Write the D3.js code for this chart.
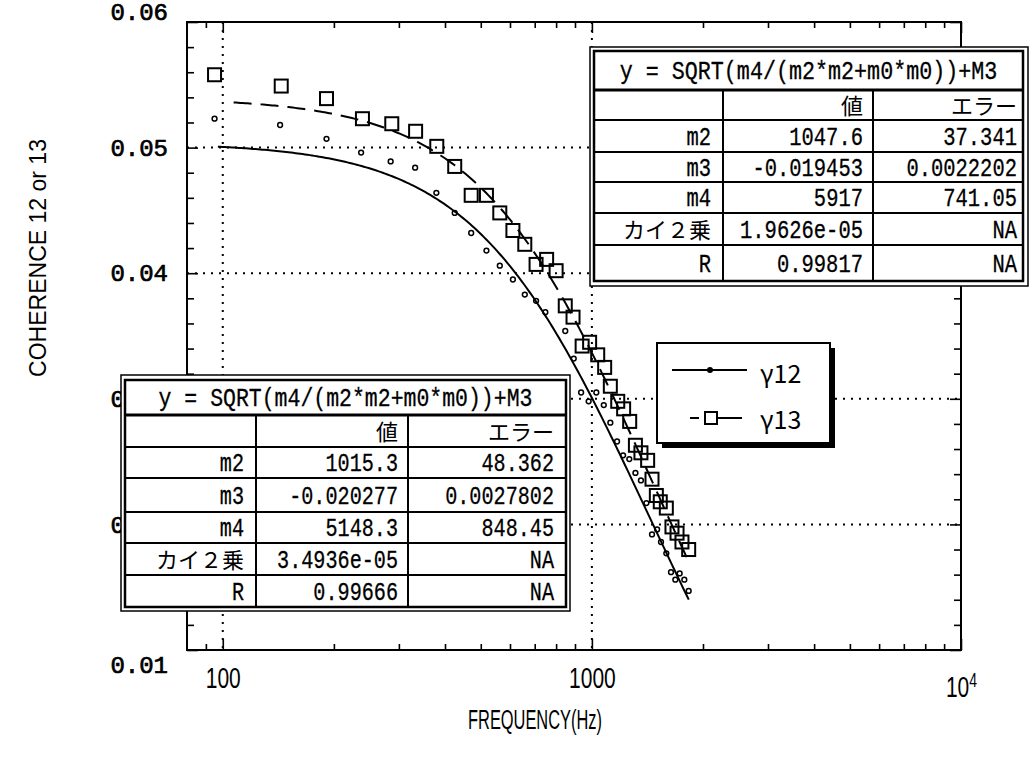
<!DOCTYPE html>
<html><head><meta charset="utf-8">
<script src="https://cdn.jsdelivr.net/npm/d3@7"></script>
<style>body{margin:0;background:#fff} svg{display:block}</style>
</head><body>
<svg id="c" width="1033" height="762"></svg>
<script>
// ---------------- data ----------------
const freq12 = [95, 143, 191, 237, 285, 332, 379, 425, 471, 518, 563, 611, 658, 706, 748, 847, 893, 935, 980, 1028, 1077, 1122, 1170, 1215, 1263, 1312, 1358, 1405, 1455, 1502, 1539, 1591, 1638, 1683, 1729, 1780, 1829];
const coh12  = [0.0523, 0.0518, 0.0507, 0.0496, 0.0489, 0.0484, 0.0464, 0.0448, 0.0432, 0.0418, 0.0406, 0.0395, 0.0383, 0.0378, 0.0369, 0.0354, 0.0332, 0.0305, 0.0298, 0.0305, 0.0295, 0.0281, 0.0266, 0.0255, 0.0252, 0.0241, 0.0235, 0.0217, 0.0192, 0.0196, 0.0186, 0.0177, 0.0162, 0.0156, 0.0161, 0.0156, 0.0147];
const freq13 = [95, 144, 191, 239, 287, 333, 380, 425, 471, 518, 563, 611, 658, 706, 754, 800, 847, 889, 941, 986, 1037, 1083, 1122, 1175, 1219, 1266, 1312, 1358, 1416, 1455, 1495, 1532, 1591, 1648, 1701, 1754, 1829];
const coh13  = [0.0558, 0.0549, 0.0539, 0.0523, 0.0519, 0.0513, 0.0501, 0.0485, 0.0462, 0.0462, 0.0448, 0.0434, 0.0423, 0.0407, 0.0411, 0.0402, 0.0374, 0.0365, 0.0342, 0.0345, 0.0335, 0.0325, 0.0310, 0.0298, 0.0292, 0.0282, 0.0263, 0.0257, 0.0251, 0.0236, 0.0223, 0.0218, 0.0213, 0.0198, 0.0193, 0.0186, 0.0180];

// fit parameters shown in the tables: [m2, m3, m4]
const fit12 = [1015.3, -0.020277, 5148.3];
const fit13 = [1047.6, -0.019453, 5917];
const fit12Range = [97, 1830];
const fit13Range = [107, 1830];

const xTickValues = [100, 1000, 10000];
const xTickLabels = ["100", "1000", "10"];
const yTickValues = [0.01, 0.02, 0.03, 0.04, 0.05, 0.06];
const yTickLabels = ["0.01", "0.02", "0.03", "0.04", "0.05", "0.06"];
const xGridValues = [100, 1000];
const yGridValues = [0.02, 0.03, 0.04, 0.05];

const tableTitle = "y = SQRT(m4/(m2*m2+m0*m0))+M3";
const tableHeader = ["", "値", "エラー"];
const tableRowNames = ["m2", "m3", "m4", "カイ２乗", "R"];
const table13Values = ["1047.6", "-0.019453", "5917", "1.9626e-05", "0.99817"];
const table13Errors = ["37.341", "0.0022202", "741.05", "NA", "NA"];
const table12Values = ["1015.3", "-0.020277", "5148.3", "3.4936e-05", "0.99666"];
const table12Errors = ["48.362", "0.0027802", "848.45", "NA", "NA"];

const legendLabels = ["γ12", "γ13"];
const xTitle = "FREQUENCY(Hz)";
const yTitle = "COHERENCE 12 or 13";

// ---------------- layout ----------------
const svg = d3.select("#c");
const L = 187, R = 961, T = 22, B = 650;
const x = d3.scaleLog().domain([80, 10000]).range([L, R]);
const y = d3.scaleLinear().domain([0.01, 0.06]).range([B, T]);

svg.append("rect").attr("width", 1033).attr("height", 762).attr("fill", "#fff");

// horizontally squeeze a text to a target width (condensed look)
function squeeze(t, w, extra) {
  const n = t.node().getComputedTextLength();
  const s = w / n;
  const xx = +t.attr("x"), yy = +t.attr("y");
  t.attr("x", 0).attr("y", 0).attr("transform", `translate(${xx},${yy}) ${extra || ""} scale(${s},1)`);
  return t;
}

// grid (dotted)
const grid = svg.append("g").attr("stroke", "#000").attr("stroke-width", 2).attr("stroke-dasharray", "2,6");
grid.selectAll("line.v").data(xGridValues).join("line")
  .attr("x1", d => x(d)).attr("x2", d => x(d)).attr("y1", T).attr("y2", B);
grid.selectAll("line.h").data(yGridValues).join("line")
  .attr("x1", L).attr("x2", R).attr("y1", d => y(d)).attr("y2", d => y(d));

// minor tick positions
const xMinor = [];
[10, 100, 1000].forEach(dec => { for (let k = 2; k <= 9; k++) { const v = k * dec; if (v > 80 && v < 10000) xMinor.push(v); } });
const yMinor = [];
for (let i = 1; i < 25; i++) { const v = +(0.01 + i * 0.002).toFixed(3); if (Math.round(v * 1000) % 10 !== 0) yMinor.push(v); }

function styleAxis(g) { g.select(".domain").remove(); g.selectAll(".tick line").attr("stroke", "#000").attr("stroke-width", 1.6); }

// bottom
svg.append("g").attr("transform", `translate(0,${B})`)
  .call(d3.axisBottom(x).tickValues(xMinor).tickSize(-6).tickFormat("")).call(styleAxis);
const xAx = svg.append("g").attr("transform", `translate(0,${B})`)
  .call(d3.axisBottom(x).tickValues(xTickValues).tickSize(-11).tickPadding(17)
    .tickFormat((d, i) => xTickLabels[i])).call(styleAxis);
xAx.selectAll(".tick text").attr("font-family", "Liberation Sans, Arial, sans-serif")
  .attr("font-size", 30).attr("fill", "#000").attr("transform", "scale(0.7,1)")
  .each(function (d) {
    if (d === 10000) {
      d3.select(this).attr("dy", "1.0em").append("tspan").attr("dy", "-0.5em").attr("font-size", 20).text("4");
    }
  });
// top
svg.append("g").attr("transform", `translate(0,${T})`)
  .call(d3.axisTop(x).tickValues(xMinor).tickSize(-6).tickFormat("")).call(styleAxis);
svg.append("g").attr("transform", `translate(0,${T})`)
  .call(d3.axisTop(x).tickValues(xTickValues).tickSize(-11).tickFormat("")).call(styleAxis);
// left
svg.append("g").attr("transform", `translate(${L},0)`)
  .call(d3.axisLeft(y).tickValues(yMinor).tickSize(-7).tickFormat("")).call(styleAxis);
const yAx = svg.append("g").attr("transform", `translate(${L},0)`)
  .call(d3.axisLeft(y).tickValues(yTickValues).tickSize(-11).tickPadding(19)
    .tickFormat((d, i) => yTickLabels[i])).call(styleAxis);
yAx.selectAll(".tick text").attr("font-family", "Liberation Mono, DejaVu Sans Mono, monospace")
  .attr("font-size", 24).attr("fill", "#000").attr("stroke", "#000").attr("stroke-width", 0.7)
  .attr("dy", d => d === 0.06 ? "-0.1em" : d === 0.01 ? "0.95em" : "0.32em");
// right
svg.append("g").attr("transform", `translate(${R},0)`)
  .call(d3.axisRight(y).tickValues(yMinor).tickSize(-7).tickFormat("")).call(styleAxis);
svg.append("g").attr("transform", `translate(${R},0)`)
  .call(d3.axisRight(y).tickValues(yTickValues).tickSize(-11).tickFormat("")).call(styleAxis);

// frame
svg.append("rect").attr("x", L).attr("y", T).attr("width", R - L).attr("height", B - T)
  .attr("fill", "none").attr("stroke", "#000").attr("stroke-width", 2);

// fit curves
function model(p, f) { return Math.sqrt(p[2] / (p[0] * p[0] + f * f)) + p[1]; }
function curve(p, range) {
  const n = 200, a = Math.log10(range[0]), b = Math.log10(range[1]);
  return d3.range(n + 1).map(i => { const f = Math.pow(10, a + (b - a) * i / n); return [f, model(p, f)]; });
}
const line = d3.line().x(d => x(d[0])).y(d => y(d[1]));
svg.append("path").attr("d", line(curve(fit12, fit12Range))).attr("fill", "none")
  .attr("stroke", "#000").attr("stroke-width", 2);
svg.append("path").attr("d", line(curve(fit13, fit13Range))).attr("fill", "none")
  .attr("stroke", "#000").attr("stroke-width", 2).attr("stroke-dasharray", "18,9");

// points
svg.append("g").selectAll("circle").data(freq12.map((f, i) => [f, coh12[i]])).join("circle")
  .attr("cx", d => x(d[0])).attr("cy", d => y(d[1])).attr("r", 2.4)
  .attr("fill", "none").attr("stroke", "#000").attr("stroke-width", 1.5);
svg.append("g").selectAll("rect").data(freq13.map((f, i) => [f, coh13[i]])).join("rect")
  .attr("x", d => x(d[0]) - 6.5).attr("y", d => y(d[1]) - 6.5).attr("width", 13).attr("height", 13)
  .attr("fill", "none").attr("stroke", "#000").attr("stroke-width", 2);

// tables
function drawTable(o) {
  const g = svg.append("g");
  g.append("rect").attr("x", o.ox0).attr("y", o.oy0).attr("width", o.ox1 - o.ox0).attr("height", o.oy1 - o.oy0)
    .attr("fill", "#fff").attr("stroke", "#000").attr("stroke-width", 1.5);
  const c = o.cols, r = o.rows;
  g.append("rect").attr("x", c[0]).attr("y", r[0]).attr("width", c[3] - c[0]).attr("height", r[r.length - 1] - r[0])
    .attr("fill", "none").attr("stroke", "#000").attr("stroke-width", 2.5);
  r.slice(1, -1).forEach((yy, i) => g.append("line").attr("x1", c[0]).attr("x2", c[3]).attr("y1", yy).attr("y2", yy)
    .attr("stroke", "#000").attr("stroke-width", i === 0 ? 3 : 2));
  [c[1], c[2]].forEach(xx => g.append("line").attr("x1", xx).attr("x2", xx).attr("y1", r[1]).attr("y2", r[r.length - 1])
    .attr("stroke", "#000").attr("stroke-width", 2));
  const ascii = s => /^[\x00-\x7F]*$/.test(s);
  function cellText(s, xr, row) {
    if (!s) return;
    const t = g.append("text").attr("x", xr).attr("text-anchor", "end").attr("fill", "#000").text(s);
    const yc = (r[row] + r[row + 1]) / 2;
    if (ascii(s)) {
      t.attr("y", yc + 8.5).attr("font-family", "Liberation Mono, DejaVu Sans Mono, monospace").attr("font-size", 26)
        .attr("stroke", "#000").attr("stroke-width", 0.3);
      squeeze(t, s.length * o.cell);
    } else {
      t.attr("y", yc + 8.5).attr("font-family", "Noto Sans CJK JP, sans-serif").attr("font-size", 22);
    }
  }
  const title = g.append("text").attr("x", (c[0] + c[3]) / 2).attr("y", (r[0] + r[1]) / 2 + 8.5)
    .attr("text-anchor", "middle").attr("font-family", "Liberation Mono, DejaVu Sans Mono, monospace")
    .attr("stroke", "#000").attr("stroke-width", 0.3)
    .attr("font-size", 26).text(tableTitle);
  squeeze(title, o.titleW);
  tableHeader.forEach((s, j) => cellText(s, c[j + 1] - o.pad[j], 1));
  tableRowNames.forEach((s, i) => {
    cellText(s, c[1] - o.pad[0], i + 2);
    cellText(o.values[i], c[2] - o.pad[1], i + 2);
    cellText(o.errors[i], c[3] - o.pad[2], i + 2);
  });
}
drawTable({ ox0: 590, oy0: 47, ox1: 1028, oy1: 286,
  cols: [594, 723, 873, 1023], rows: [51, 90, 120, 152, 182, 213, 245, 281],
  cell: 12.3, titleW: 378, pad: [12, 10, 6], values: table13Values, errors: table13Errors });
drawTable({ ox0: 121, oy0: 375, ox1: 570, oy1: 611,
  cols: [125, 256, 408, 566], rows: [380, 415, 447, 478, 512, 543, 575, 607],
  cell: 12.1, titleW: 374, pad: [12, 10, 12], values: table12Values, errors: table12Errors });

// legend
const lg = svg.append("g");
lg.append("rect").attr("x", 662).attr("y", 348).attr("width", 173).attr("height", 100).attr("fill", "#000");
lg.append("rect").attr("x", 657).attr("y", 343).attr("width", 173).attr("height", 100)
  .attr("fill", "#fff").attr("stroke", "#000").attr("stroke-width", 2);
lg.append("line").attr("x1", 672).attr("x2", 747).attr("y1", 370).attr("y2", 370).attr("stroke", "#000").attr("stroke-width", 2);
lg.append("circle").attr("cx", 710).attr("cy", 370).attr("r", 3).attr("fill", "#000");
lg.append("line").attr("x1", 690).attr("x2", 742).attr("y1", 418).attr("y2", 418).attr("stroke", "#000")
  .attr("stroke-width", 2).attr("stroke-dasharray", "9,6,40");
lg.append("rect").attr("x", 705).attr("y", 412).attr("width", 12).attr("height", 12)
  .attr("fill", "#fff").attr("stroke", "#000").attr("stroke-width", 2);
legendLabels.forEach((s, i) => lg.append("text").attr("x", 760).attr("y", 383 + i * 46)
  .attr("font-family", "Noto Sans CJK JP, sans-serif").attr("font-size", 25).attr("fill", "#000").text(s));

// axis titles
const xt = svg.append("text").attr("x", 535).attr("y", 729).attr("text-anchor", "middle")
  .attr("font-family", "Liberation Sans, Arial, sans-serif").attr("font-size", 27).text(xTitle);
squeeze(xt, 134);
const yt = svg.append("text").attr("x", 46).attr("y", 258).attr("text-anchor", "middle")
  .attr("font-family", "Liberation Sans, Arial, sans-serif").attr("font-size", 23).text(yTitle);
squeeze(yt, 238, "rotate(-90)");
</script>
</body></html>
